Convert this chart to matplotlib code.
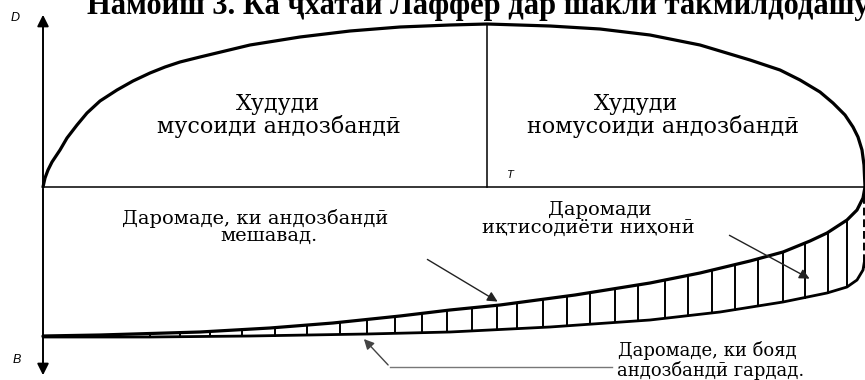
import numpy as np
import matplotlib
matplotlib.use("Agg")
import matplotlib.pyplot as plt

# Canvas in pixel units of the original figure (x right, y down)
W, H = 865, 380

# Laffer arch above the T-axis
top_x = [43, 45, 48, 52, 56, 60, 67, 77, 87, 100, 117, 133, 150, 165, 180, 200,
         225, 250, 275, 300, 350, 400, 450, 487, 550, 600, 650, 700, 750, 780,
         800, 820, 833, 845, 853, 858, 862, 864, 865]
top_y = [187, 178, 170, 162, 156, 150, 138, 125, 113, 101, 90, 81, 73, 67, 62, 57,
         51, 45, 41, 37, 31, 27, 25, 24, 26, 29, 35, 45, 60, 70,
         80, 92, 103, 115, 127, 137, 150, 165, 187]

# upper and lower edges of the hatched band (below the T-axis)
upper_x = [43, 100, 200, 270, 333, 400, 450, 500, 575, 650, 700, 750, 783, 810,
           827, 847, 857, 863, 865]
upper_y = [336, 335, 332, 328, 323, 316, 310, 305, 295, 283, 273, 261, 252, 241,
           233, 220, 210, 198, 187]
lower_x = [43, 150, 250, 367, 450, 550, 650, 720, 783, 827, 847, 857, 863, 865]
lower_y = [337, 337, 336, 334, 332, 327, 320, 312, 302, 293, 287, 280, 270, 258]

# positions of the vertical hatch strokes
hatch_x = [150, 180, 210, 242, 275, 307, 340, 367, 395, 422, 447, 472, 497, 517,
           543, 567, 590, 615, 638, 665, 688, 712, 735, 758, 783, 805, 828, 847]

axis_x = 43
t_y = 187
peak_x = 487

title = "Намоиш 3. Ка ҷхатаи Лаффер дар шакли такмилдодашуда"
serif = ["Liberation Serif", "DejaVu Serif"]
body = ["DejaVu Serif", "Liberation Serif"]

fig = plt.figure(figsize=(W / 100, H / 100), dpi=100)
ax = fig.add_axes([0, 0, 1, 1])
ax.set_xlim(0, W)
ax.set_ylim(H, 0)
ax.axis("off")

# title (its top is cut by the upper edge, as in the source)
ax.text(87, 14, title, family=serif, fontweight="bold", fontsize=22,
        ha="left", va="baseline", color="black")

# axes: vertical D-B and horizontal T
ax.annotate("", xy=(axis_x, 12), xytext=(axis_x, t_y),
            arrowprops=dict(arrowstyle="-|>", color="black", lw=1.4, mutation_scale=17))
ax.annotate("", xy=(axis_x, 378), xytext=(axis_x, t_y - 1),
            arrowprops=dict(arrowstyle="-|>", color="black", lw=1.4, mutation_scale=17))
ax.plot([axis_x, W], [t_y, t_y], color="black", lw=1.1)
ax.plot([peak_x, peak_x], [min(top_y), t_y], color="black", lw=1.1)

# curves
ax.plot(top_x, top_y, color="black", lw=2.3, solid_capstyle="round", solid_joinstyle="round")
ax.plot(upper_x, upper_y, color="black", lw=2.3, solid_capstyle="round", solid_joinstyle="round")
ax.plot(lower_x, lower_y, color="black", lw=2.0, solid_capstyle="round", solid_joinstyle="round")

for hx in hatch_x:
    y0 = np.interp(hx, upper_x, upper_y)
    y1 = np.interp(hx, lower_x, lower_y)
    ax.plot([hx, hx], [y0, y1], color="black", lw=1.4)
ax.plot([864, 864], [196, 268], color="black", lw=1.4, ls=(0, (4, 2)))

# axis letters
ax.text(15, 18, "D", family="Liberation Sans", style="italic", fontsize=9,
        ha="center", va="center")
ax.text(17, 360, "B", family="Liberation Sans", style="italic", fontsize=9,
        ha="center", va="center")
ax.text(510, 175, "T", family="Liberation Sans", style="italic", fontsize=8,
        ha="center", va="center")

# region labels
fs = 16
ax.text(278, 104, "Худуди", family=body, fontsize=fs, ha="center", va="center")
ax.text(279, 127, "мусоиди андозбандӣ", family=body, fontsize=fs, ha="center", va="center")
ax.text(636, 104, "Худуди", family=body, fontsize=fs, ha="center", va="center")
ax.text(663, 127, "номусоиди андозбандӣ", family=body, fontsize=fs, ha="center", va="center")

fs2 = 14
ax.text(255, 218, "Даромаде, ки андозбандӣ", family=body, fontsize=fs2, ha="center", va="center")
ax.text(269, 236, "мешавад.", family=body, fontsize=fs2, ha="center", va="center")
ax.text(600, 210, "Даромади", family=body, fontsize=fs2, ha="center", va="center")
ax.text(588, 228, "иқтисодиёти ниҳонӣ", family=body, fontsize=fs2, ha="center", va="center")
ax.text(618, 351, "Даромаде, ки бояд", family=body, fontsize=13, ha="left", va="center")
ax.text(617, 370, "андозбандӣ гардад.", family=body, fontsize=13, ha="left", va="center")

# pointer arrows
arrow = dict(arrowstyle="-|>", color="#222222", lw=1.0, mutation_scale=15)
ax.annotate("", xy=(500, 303), xytext=(425, 258), arrowprops=arrow)
ax.annotate("", xy=(812, 280), xytext=(727, 234), arrowprops=arrow)
ax.plot([612, 390], [367, 367], color="#777777", lw=1.0)
ax.annotate("", xy=(362, 337), xytext=(390, 367),
            arrowprops=dict(arrowstyle="-|>", color="#444444", lw=1.0, mutation_scale=15))

fig.savefig("out.png", dpi=100)
